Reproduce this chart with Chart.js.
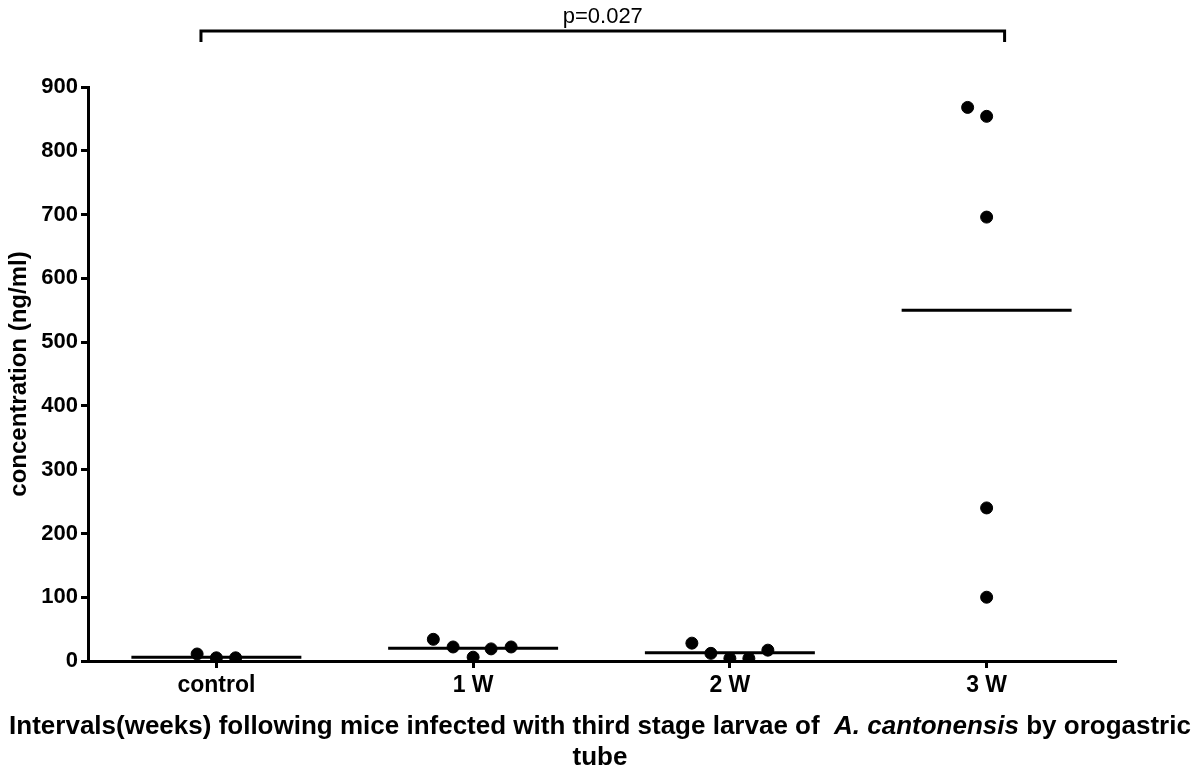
<!DOCTYPE html>
<html>
<head>
<meta charset="utf-8">
<title>concentration</title>
<script src="https://cdn.jsdelivr.net/npm/chart.js@4/dist/chart.umd.min.js"></script>
<style>
  body { margin: 0; background: #fff; }
  #wrap { width: 1200px; height: 771px; }
</style>
</head>
<body>
<div id="wrap"><canvas id="grafica" width="1200" height="771"></canvas></div>
<script>
// categorias y valores
const categorias = ['control', '1 W', '2 W', '3 W'];
const valoresControl = [11, 5, 5];
const valores1W = [34, 22, 6, 19, 22];
const valores2W = [28, 12, 4, 4, 17];
const valores3W = [868, 854, 696, 240, 100];
// desplazamiento horizontal de cada punto (en unidades de categoria)
const jitterControl = [-0.075, 0, 0.075];
const jitter1W = [-0.155, -0.078, 0, 0.07, 0.148];
const jitter2W = [-0.148, -0.074, 0, 0.074, 0.148];
const jitter3W = [-0.074, 0, 0, 0, 0];
const medias = [6, 20, 13, 550];
const ticksY = [0, 100, 200, 300, 400, 500, 600, 700, 800, 900];
const pValor = 'p=0.027';

const fuente = '"Liberation Sans", Arial, sans-serif';

const grupos = [
    [valoresControl, jitterControl],
    [valores1W, jitter1W],
    [valores2W, jitter2W],
    [valores3W, jitter3W]
];

const puntos = [];
grupos.forEach(([vals, jit], i) => {
    vals.forEach((v, k) => puntos.push({ x: i + jit[k], y: v }));
});

// lineas de la media, separadas con null
const mitad = 0.331;
const lineaMedia = [];
medias.forEach((m, i) => {
    lineaMedia.push({ x: i - mitad, y: m });
    lineaMedia.push({ x: i + mitad, y: m });
    lineaMedia.push({ x: i + 0.5, y: null });
});

// Corchete con el valor p y titulo del eje x
const extras = {
    id: 'extras',
    afterDraw(chart) {
        const ctx = chart.ctx;
        const xs = chart.scales.x;
        ctx.save();
        // corchete
        const x1 = xs.getPixelForValue(-0.06);
        const x2 = xs.getPixelForValue(3.07);
        ctx.strokeStyle = '#000';
        ctx.lineWidth = 3;
        ctx.beginPath();
        ctx.moveTo(x1, 42);
        ctx.lineTo(x1, 31);
        ctx.lineTo(x2, 31);
        ctx.lineTo(x2, 42);
        ctx.stroke();
        ctx.fillStyle = '#000';
        ctx.textAlign = 'center';
        ctx.textBaseline = 'alphabetic';
        ctx.font = '22px ' + fuente;
        ctx.fillText(pValor, (x1 + x2) / 2, 23);

        // titulo del eje x con parte en cursiva
        const partes = [
            { t: 'Intervals(weeks) following mice infected with third stage larvae of  ', f: 'bold 26px ' + fuente },
            { t: 'A. cantonensis', f: 'italic bold 26px ' + fuente },
            { t: ' by orogastric', f: 'bold 26px ' + fuente }
        ];
        let total = 0;
        partes.forEach(p => { ctx.font = p.f; p.w = ctx.measureText(p.t).width; total += p.w; });
        let x = 600 - total / 2;
        ctx.textAlign = 'left';
        partes.forEach(p => { ctx.font = p.f; ctx.fillText(p.t, x, 734); x += p.w; });
        ctx.textAlign = 'center';
        ctx.font = 'bold 26px ' + fuente;
        ctx.fillText('tube', 600, 765);
        ctx.restore();
    }
};

new Chart(document.getElementById('grafica'), {
    type: 'scatter',
    data: {
        datasets: [
            {
                data: puntos,
                backgroundColor: '#000',
                borderColor: '#000',
                pointRadius: 6,
                pointHoverRadius: 6,
                order: 1
            },
            {
                data: lineaMedia,
                showLine: true,
                spanGaps: false,
                borderColor: '#000',
                borderWidth: 3,
                pointRadius: 0,
                order: 2
            }
        ]
    },
    options: {
        responsive: false,
        animation: false,
        layout: { padding: { top: 87, right: 85, bottom: 0, left: 0 } },
        plugins: {
            legend: { display: false },
            tooltip: { enabled: false }
        },
        scales: {
            x: {
                type: 'linear',
                min: -0.5,
                max: 3.5,
                afterBuildTicks: s => { s.ticks = categorias.map((c, i) => ({ value: i })); },
                afterFit: s => { s.height = 110; },
                ticks: {
                    callback: v => categorias[v],
                    color: '#000',
                    padding: 4,
                    maxRotation: 0,
                    font: { family: fuente, size: 23, weight: 'bold' }
                },
                grid: { drawOnChartArea: false, drawTicks: true, tickLength: 7, color: '#000', lineWidth: 3 },
                border: { color: '#000', width: 3 }
            },
            y: {
                min: 0,
                max: 900,
                afterBuildTicks: s => { s.ticks = ticksY.map(v => ({ value: v })); },
                afterFit: s => { s.width = 88; },
                ticks: {
                    color: '#000',
                    padding: 3,
                    font: { family: fuente, size: 22, weight: 'bold' }
                },
                grid: { drawOnChartArea: false, drawTicks: true, tickLength: 7, color: '#000', lineWidth: 3 },
                border: { color: '#000', width: 3 },
                title: {
                    display: true,
                    text: 'concentration (ng/ml)',
                    color: '#000',
                    padding: { top: 5, bottom: 0 },
                    font: { family: fuente, size: 24, weight: 'bold' }
                }
            }
        }
    },
    plugins: [extras]
});
</script>
</body>
</html>
